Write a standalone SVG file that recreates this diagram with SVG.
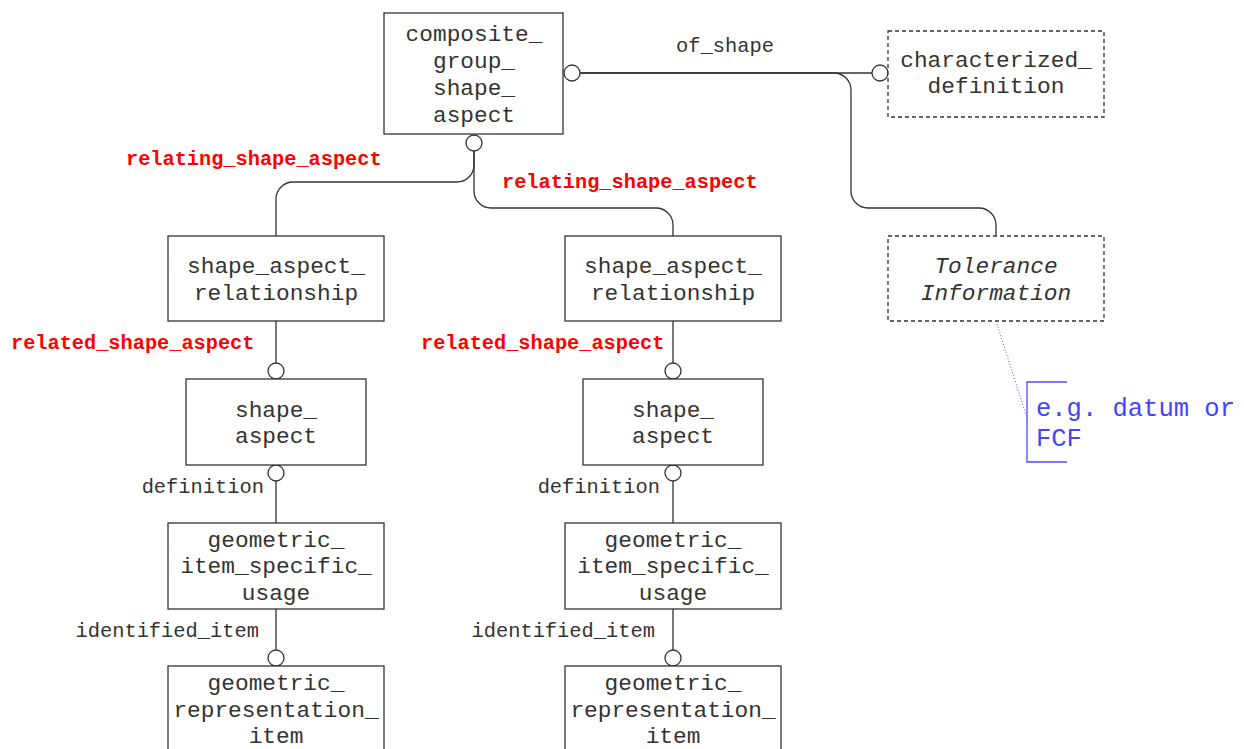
<svg xmlns="http://www.w3.org/2000/svg" width="1244" height="749" viewBox="0 0 1244 749">
<style>
.box{fill:#fff;stroke:#333;stroke-width:1.3}
.dbox{fill:#fff;stroke:#333;stroke-width:1.3;stroke-dasharray:4,3}
.t{font-family:"Liberation Mono","Courier New",monospace;font-size:22.8px;fill:#333;text-anchor:middle}
.ti{font-style:italic}
.lbl{font-family:"Liberation Mono","Courier New",monospace;font-size:20.4px;fill:#333}
.red{font-family:"Liberation Mono","Courier New",monospace;font-size:20.3px;font-weight:bold;fill:#ff0000}
.ln{fill:none;stroke:#333;stroke-width:1.3}
.ring{fill:#fff;stroke:#333;stroke-width:1.3}
.blue{font-family:"Liberation Mono","Courier New",monospace;font-size:25.5px;fill:#4444ff}
</style>
<rect width="1244" height="749" fill="#fff"/>
<g id="connectors">
<path class="ln" d="M580,73 H872"/>
<path class="ln" d="M580,73 H834 A17,17 0 0 1 851,90 V191 A17,17 0 0 0 868,208 H979 A17,17 0 0 1 996,225 V236"/>
<path class="ln" d="M474,151 V165 A17,17 0 0 1 457,182 H293 A17,17 0 0 0 276,199 V236"/>
<path class="ln" d="M474,151 V191 A17,17 0 0 0 491,208 H656 A17,17 0 0 1 673,225 V236"/>
<path class="ln" d="M276,321 V363 M276,481 V523 M276,609 V650"/>
<path class="ln" d="M673,321 V363 M673,481 V523 M673,609 V650"/>
<circle class="ring" cx="572" cy="73" r="8"/>
<circle class="ring" cx="880" cy="73" r="8"/>
<circle class="ring" cx="474" cy="143" r="8"/>
<circle class="ring" cx="276" cy="371" r="8"/>
<circle class="ring" cx="276" cy="473" r="8"/>
<circle class="ring" cx="276" cy="658" r="8"/>
<circle class="ring" cx="673" cy="371" r="8"/>
<circle class="ring" cx="673" cy="473" r="8"/>
<circle class="ring" cx="673" cy="658" r="8"/>
<text class="lbl" x="676" y="52">of_shape</text>
<text class="red" x="126" y="165">relating_shape_aspect</text>
<text class="red" x="502" y="188">relating_shape_aspect</text>
<text class="red" x="11" y="349">related_shape_aspect</text>
<text class="red" x="421" y="349">related_shape_aspect</text>
<text class="lbl" x="264" y="493" text-anchor="end">definition</text>
<text class="lbl" x="660" y="493" text-anchor="end">definition</text>
<text class="lbl" x="259" y="637" text-anchor="end">identified_item</text>
<text class="lbl" x="655" y="637" text-anchor="end">identified_item</text>
</g>
<g id="composite_group_shape_aspect">
<rect class="box" x="384" y="13" width="179" height="121"/>
<text class="t" x="474" y="41">composite_</text>
<text class="t" x="474" y="68">group_</text>
<text class="t" x="474" y="95">shape_</text>
<text class="t" x="474" y="122">aspect</text>
</g>
<g id="characterized_definition">
<rect class="dbox" x="888" y="31" width="216" height="86"/>
<text class="t" x="996" y="67">characterized_</text>
<text class="t" x="996" y="93">definition</text>
</g>
<g id="tolerance_information">
<rect class="dbox" x="888" y="236" width="216" height="85"/>
<text class="t ti" x="996" y="273">Tolerance</text>
<text class="t ti" x="996" y="300">Information</text>
</g>
<g id="note">
<path d="M996,321 L1027,418" fill="none" stroke="#4a4aff" stroke-width="1" stroke-dasharray="1,2"/>
<path d="M1067,382 H1027 V462 H1067" fill="none" stroke="#4a4aff" stroke-width="1.3"/>
<text class="blue" x="1036" y="416">e.g. datum or</text>
<text class="blue" x="1036" y="446">FCF</text>
</g>
<g id="sar_left">
<rect class="box" x="168" y="236" width="216" height="85"/>
<text class="t" x="276" y="273">shape_aspect_</text>
<text class="t" x="276" y="300">relationship</text>
</g>
<g id="sar_right">
<rect class="box" x="565" y="236" width="216" height="85"/>
<text class="t" x="673" y="273">shape_aspect_</text>
<text class="t" x="673" y="300">relationship</text>
</g>
<g id="sa_left">
<rect class="box" x="186" y="379" width="180" height="86"/>
<text class="t" x="276" y="417">shape_</text>
<text class="t" x="276" y="443">aspect</text>
</g>
<g id="sa_right">
<rect class="box" x="583" y="379" width="180" height="86"/>
<text class="t" x="673" y="417">shape_</text>
<text class="t" x="673" y="443">aspect</text>
</g>
<g id="gisu_left">
<rect class="box" x="168" y="523" width="216" height="86"/>
<text class="t" x="276" y="547">geometric_</text>
<text class="t" x="276" y="573">item_specific_</text>
<text class="t" x="276" y="600">usage</text>
</g>
<g id="gisu_right">
<rect class="box" x="565" y="523" width="216" height="86"/>
<text class="t" x="673" y="547">geometric_</text>
<text class="t" x="673" y="573">item_specific_</text>
<text class="t" x="673" y="600">usage</text>
</g>
<g id="gri_left">
<rect class="box" x="168" y="666" width="216" height="100"/>
<text class="t" x="276" y="690">geometric_</text>
<text class="t" x="276" y="717">representation_</text>
<text class="t" x="276" y="743">item</text>
</g>
<g id="gri_right">
<rect class="box" x="565" y="666" width="216" height="100"/>
<text class="t" x="673" y="690">geometric_</text>
<text class="t" x="673" y="717">representation_</text>
<text class="t" x="673" y="743">item</text>
</g>
</svg>
